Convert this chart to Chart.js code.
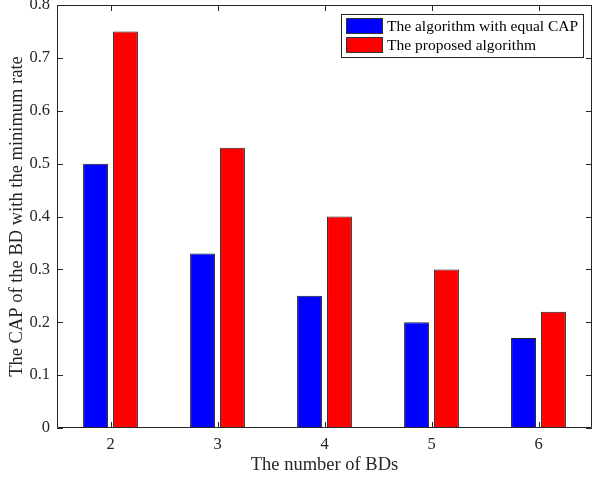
<!DOCTYPE html>
<html>
<head>
<meta charset="utf-8">
<script src="https://cdn.jsdelivr.net/npm/chart.js@4"></script>
<style>
  html, body { margin: 0; padding: 0; background: #fff; }
  #wrap { width: 592px; height: 480px; position: relative; }
</style>
</head>
<body>
<div id="wrap"><canvas id="chart"></canvas></div>
<script>
// number of BDs on the x axis
const categories = ["2", "3", "4", "5", "6"];
const seriesNames = ["The algorithm with equal CAP", "The proposed algorithm"];
const equalCap = [0.50, 0.33, 0.25, 0.20, 0.17];
const proposed = [0.75, 0.53, 0.40, 0.30, 0.22];
const yTicks = [0, 0.1, 0.2, 0.3, 0.4, 0.5, 0.6, 0.7, 0.8];

const axisColor = "#262626";
const serif = "'Liberation Serif', 'Times New Roman', serif";

// MATLAB style box with inward ticks plus legend inside the axes
const boxPlugin = {
    id: "matlabBox",
    afterDatasetsDraw(chart) {
        const ctx = chart.ctx;
        const a = chart.chartArea;
        const xs = chart.scales.x, ys = chart.scales.y;
        const len = 6;
        ctx.save();
        ctx.strokeStyle = axisColor;
        ctx.lineWidth = 1;
        ctx.beginPath();
        ctx.rect(a.left + 0.5, a.top + 0.5, a.right - a.left - 1, a.bottom - a.top - 1);
        xs.ticks.forEach((t, i) => {
            const x = Math.round(xs.getPixelForTick(i)) + 0.5;
            ctx.moveTo(x, a.bottom); ctx.lineTo(x, a.bottom - len);
            ctx.moveTo(x, a.top); ctx.lineTo(x, a.top + len);
        });
        ys.ticks.forEach((t, i) => {
            const y = Math.round(ys.getPixelForTick(i)) + 0.5;
            ctx.moveTo(a.left, y); ctx.lineTo(a.left + len, y);
            ctx.moveTo(a.right, y); ctx.lineTo(a.right - len, y);
        });
        ctx.stroke();

        // legend box
        const lx = 341.5, ly = 14.5, lw = 242, lh = 43;
        ctx.fillStyle = "#fff";
        ctx.fillRect(lx, ly, lw, lh);
        ctx.strokeRect(lx, ly, lw, lh);
        ctx.font = "15.5px " + serif;
        ctx.textBaseline = "middle";
        chart.data.datasets.forEach((ds, i) => {
            const cy = 26 + i * 19;
            ctx.fillStyle = ds.backgroundColor;
            ctx.fillRect(346.5, cy - 7.5, 36, 15);
            ctx.strokeStyle = "#333";
            ctx.strokeRect(346.5, cy - 7.5, 36, 15);
            ctx.fillStyle = "#000";
            ctx.fillText(ds.label, 387, cy + 1);
        });
        ctx.restore();
    }
};

const datasets = [
    { label: seriesNames[0], data: equalCap, backgroundColor: "#0000ff" },
    { label: seriesNames[1], data: proposed, backgroundColor: "#ff0000" }
].map(d => Object.assign(d, {
    borderColor: "#222",
    borderWidth: 1,
    borderSkipped: false,
    categoryPercentage: 0.56,
    barPercentage: 0.83
}));

new Chart(document.getElementById("chart"), {
    type: "bar",
    data: { labels: categories, datasets: datasets },
    options: {
        responsive: true,
        maintainAspectRatio: false,
        animation: false,
        layout: { padding: { top: 5, right: 0, left: 0, bottom: 0 } },
        plugins: {
            legend: { display: false },
            tooltip: { enabled: false }
        },
        scales: {
            x: {
                grid: { display: false, drawTicks: false },
                border: { display: false },
                ticks: {
                    color: axisColor,
                    padding: 7,
                    font: { family: serif, size: 16.5 }
                },
                title: {
                    display: true,
                    text: "The number of BDs",
                    color: axisColor,
                    padding: { top: 0, bottom: 4 },
                    font: { family: serif, size: 18.5 }
                },
                afterFit(scale) {
                    scale.height = 52;
                    scale.paddingLeft = 0;
                    scale.paddingRight = 0;
                }
            },
            y: {
                min: 0,
                max: 0.8,
                afterBuildTicks(scale) {
                    scale.ticks = yTicks.map(v => ({ value: v }));
                },
                grid: { display: false, drawTicks: false },
                border: { display: false },
                ticks: {
                    color: axisColor,
                    padding: 7,
                    font: { family: serif, size: 16.5 },
                    callback: v => (v === 0 ? "0" : v.toFixed(1))
                },
                title: {
                    display: true,
                    text: "The CAP of the BD with the minimum rate",
                    color: axisColor,
                    padding: { top: 6, bottom: 0 },
                    font: { family: serif, size: 18.5 }
                },
                afterFit(scale) {
                    scale.width = 57;
                    scale.paddingTop = 0;
                    scale.paddingBottom = 0;
                }
            }
        }
    },
    plugins: [boxPlugin]
});
</script>
</body>
</html>
